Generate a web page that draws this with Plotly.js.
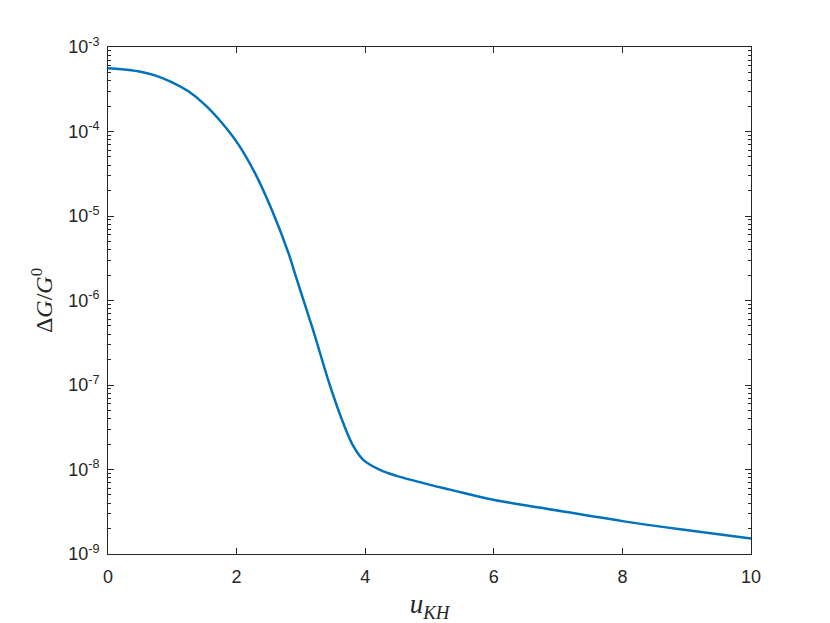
<!DOCTYPE html>
<html>
<head>
<meta charset="utf-8">
<script src="https://cdn.plot.ly/plotly-3.0.1.min.js"></script>
<style>html,body{margin:0;padding:0;background:#fff;}#chart{width:830px;height:623px;}</style>
</head>
<body>
<div id="chart"></div>
<script>
const uKH = [0, 0.21, 0.47, 0.73, 0.99, 1.25, 1.51, 1.77, 2.03, 2.29, 2.55, 2.80, 2.94, 3.19, 3.45, 3.66, 3.82, 3.97, 4.23, 4.49, 5.01, 5.32, 6.01, 6.82, 8.0, 8.9, 10];
const dG = [5.62e-4, 5.47e-4, 5.16e-4, 4.62e-4, 3.85e-4, 2.99e-4, 2.07e-4, 1.27e-4, 7.0e-5, 3.17e-5, 1.17e-5, 3.76e-6, 1.74e-6, 4.46e-7, 9.98e-8, 3.52e-8, 1.86e-8, 1.30e-8, 9.89e-9, 8.4e-9, 6.58e-9, 5.78e-9, 4.35e-9, 3.44e-9, 2.45e-9, 1.96e-9, 1.53e-9];
const xTicks = [0, 2, 4, 6, 8, 10];
const yTicks = [1e-9, 1e-8, 1e-7, 1e-6, 1e-5, 1e-4, 1e-3];
const yTickText = ['10<sup>-9</sup>', '10<sup>-8</sup>', '10<sup>-7</sup>', '10<sup>-6</sup>', '10<sup>-5</sup>', '10<sup>-4</sup>', '10<sup>-3</sup>'];

const minorVals = [];
for (let e = -9; e < -3; e++) for (let m = 2; m <= 9; m++) minorVals.push(m * Math.pow(10, e));

const axCol = '#262626';
const tickFont = {family: 'Liberation Sans, Arial, sans-serif', size: 18, color: axCol};

Plotly.newPlot('chart', [{
  x: uKH, y: dG, type: 'scatter', mode: 'lines',
  line: {color: '#0072BD', width: 2.5, shape: 'spline', smoothing: 1},
  hoverinfo: 'skip'
}], {
  width: 830, height: 623,
  margin: {l: 108, r: 79, t: 47, b: 69},
  paper_bgcolor: '#fff', plot_bgcolor: '#fff',
  showlegend: false,
  xaxis: {
    range: [0, 10], tickmode: 'array', tickvals: xTicks, ticktext: xTicks.map(String),
    ticks: 'inside', ticklen: 6, tickcolor: axCol, tickwidth: 1,
    showline: true, linecolor: axCol, linewidth: 1, mirror: 'ticks',
    showgrid: false, zeroline: false, tickfont: tickFont, ticklabelstandoff: 6,
    title: {text: '<i>u</i><sub><i>KH</i></sub>', font: {family: 'Liberation Serif, Times New Roman, serif', size: 27, color: axCol}, standoff: 10}
  },
  yaxis: {
    type: 'log', range: [-9, -3], tickmode: 'array', tickvals: yTicks, ticktext: yTickText,
    ticks: 'inside', ticklen: 6, tickcolor: axCol, tickwidth: 1,
    showline: true, linecolor: axCol, linewidth: 1, mirror: 'ticks',
    showgrid: false, zeroline: false, tickfont: tickFont, ticklabelstandoff: 4,
    minor: {tickmode: 'array', tickvals: minorVals, ticks: 'inside', ticklen: 3, tickcolor: axCol, showgrid: false},
    title: {text: 'Δ<i>G</i>/<i>G</i><sup>0</sup>', font: {family: 'Liberation Serif, Times New Roman, serif', size: 24, color: axCol}, standoff: 8}
  }
}, {staticPlot: true});
</script>
</body>
</html>
